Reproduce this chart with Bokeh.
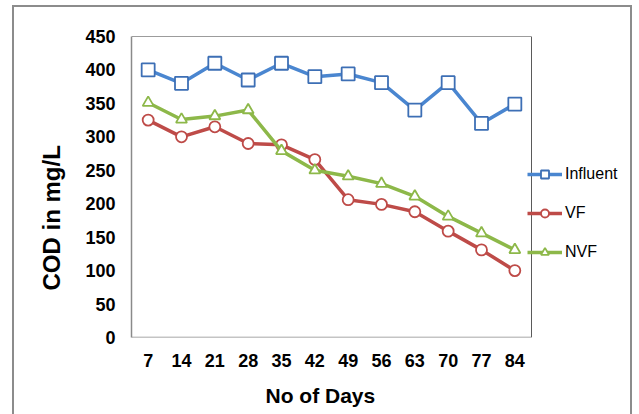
from bokeh.plotting import figure
from bokeh.models import Range1d, FixedTicker, Legend, LegendItem, Title, Span
from bokeh.embed import file_html
from bokeh.resources import INLINE

days = ["7", "14", "21", "28", "35", "42", "49", "56", "63", "70", "77", "84"]
influent = [400, 380, 410, 385, 410, 390, 394, 381, 340, 381, 320, 349]
vf = [325, 300, 315, 290, 288, 266, 206, 199, 188, 159, 131, 100]
nvf = [351, 326, 331, 340, 279, 250, 241, 230, 211, 181, 156, 131]
y_ticks = [0, 50, 100, 150, 200, 250, 300, 350, 400, 450]

FONT = "Liberation Sans"

# category positions on a numeric axis (1..12), so the legend can sit right of the plot box
xs = list(range(1, len(days) + 1))
x_lo, x_hi = 0.5, len(days) + 0.5
y_lo, y_hi = 0, 450
# frame is extended to the right (room for the legend); box edge drawn at x_hi
x_frame_end = x_hi + 89 / (400 / len(days))

p = figure(width=620, height=412, x_range=Range1d(x_lo, x_frame_end),
           y_range=Range1d(y_lo, y_hi), output_backend="svg", toolbar_location=None,
           min_border_left=117, min_border_top=29, min_border_right=14, min_border_bottom=82)
p.margin = (5, 0, 0, 12)
p.styles = {"border": "2px solid #8c8c8c"}

p.xgrid.grid_line_color = None
p.ygrid.grid_line_color = None
p.outline_line_color = None

for ax in (p.xaxis[0], p.yaxis[0]):
    ax.major_tick_line_color = None
    ax.minor_tick_line_color = None
    ax.major_tick_out = 0
    ax.major_tick_in = 0
    ax.major_label_text_font = FONT
    ax.major_label_text_font_style = "bold"
    ax.major_label_text_font_size = "18px"
    ax.major_label_text_color = "#000000"

p.yaxis.axis_line_color = "#8a8a8a"
p.yaxis.axis_line_width = 1.5
p.xaxis.axis_line_color = None
p.xaxis.ticker = FixedTicker(ticks=xs)
p.xaxis.major_label_overrides = {x: d for x, d in zip(xs, days)}
p.xaxis.major_label_standoff = 16
p.yaxis.major_label_standoff = 16
p.yaxis.ticker = FixedTicker(ticks=y_ticks)

# plot box: bottom (axis colour), top and right edges
p.segment(x0=[x_lo], y0=[y_lo], x1=[x_hi], y1=[y_lo], line_color="#8a8a8a", line_width=1.5)
p.segment(x0=[x_lo], y0=[y_hi], x1=[x_hi], y1=[y_hi], line_color="#3a3a3a", line_width=1)
p.add_layout(Span(location=x_hi, dimension="height", line_color="#5a5a5a", line_width=1))

ytitle = Title(text="COD in mg/L", align="left", offset=47, standoff=35,
               text_font=FONT, text_font_style="bold", text_font_size="24px",
               text_color="#000000")
p.add_layout(ytitle, "left")
xtitle = Title(text="No of Days", align="left", offset=134, standoff=25,
               text_font=FONT, text_font_style="bold", text_font_size="21px",
               text_color="#000000")
p.add_layout(xtitle, "below")

series = [
    ("Influent", influent, "#4A86D0", "#3D6FB5", "square", 13),
    ("VF", vf, "#BE4B48", "#BE4B48", "circle", 11),
    ("NVF", nvf, "#8DB849", "#8DB849", "triangle", 11),
]
items = []
for name, vals, lc, mc, marker, sz in series:
    l = p.line(xs, vals, line_color=lc, line_width=3.5)
    s = p.scatter(xs, vals, marker=marker, size=sz, fill_color="white",
                  line_color=mc, line_width=1.8)
    items.append(LegendItem(label=name, renderers=[l, s]))

legend = Legend(items=items, location=(396, 75), padding=0, margin=0,
                border_line_color=None, background_fill_alpha=0,
                glyph_width=35, glyph_height=20, spacing=19, label_standoff=3,
                label_text_font=FONT, label_text_font_size="16px",
                label_text_color="#000000", label_height=20)
p.add_layout(legend, "center")

open("out.html", "w").write(file_html(p, INLINE))
